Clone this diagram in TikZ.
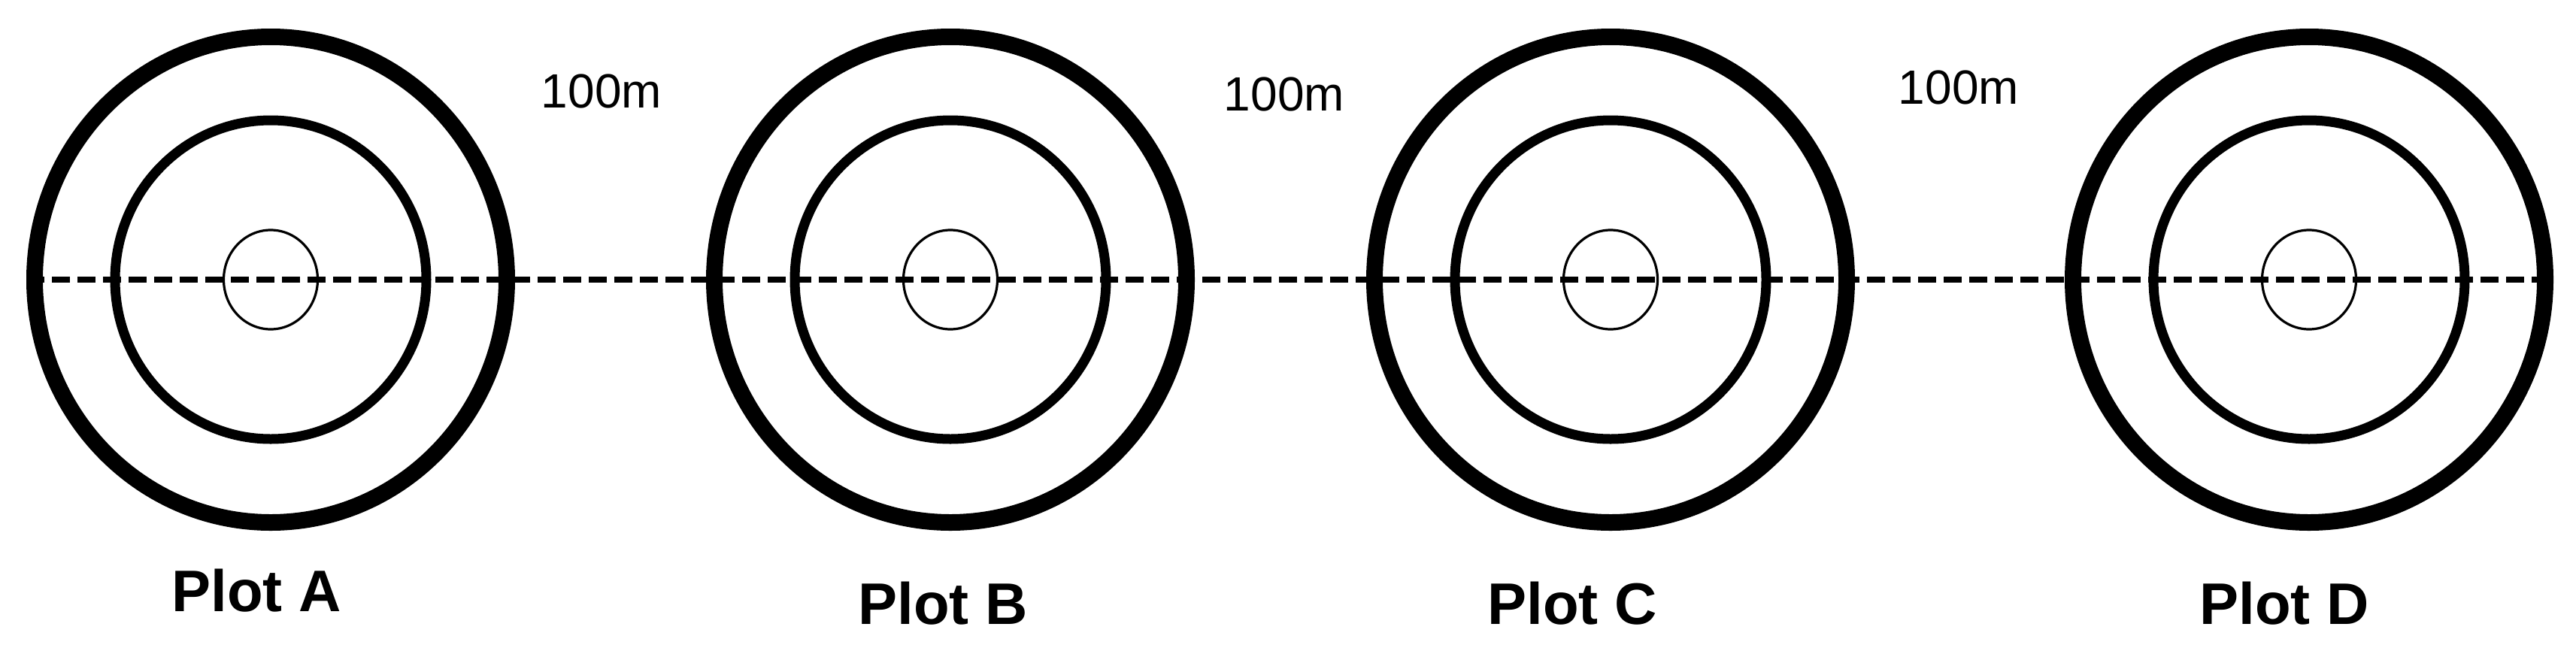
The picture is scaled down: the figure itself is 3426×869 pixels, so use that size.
\documentclass[tikz,border=0pt]{standalone}
\usepackage{fontspec}
\setmainfont{Liberation Sans}
\usetikzlibrary{shapes.geometric}
\begin{document}
\begin{tikzpicture}[x=0.5pt,y=-0.5pt,
  outerring/.style={ellipse,draw,line width=11pt,minimum width=314pt,minimum height=323pt,inner sep=0pt},
  midring/.style={ellipse,draw,line width=6.5pt,minimum width=207pt,minimum height=212pt,inner sep=0pt},
  innerring/.style={ellipse,draw,line width=1.6pt,minimum width=62.5pt,minimum height=66pt,inner sep=0pt},
  dashline/.style={line width=3.8pt,dash pattern=on 12pt off 5pt},
  plotlabel/.style={font=\bfseries\fontsize{39pt}{44pt}\selectfont,anchor=base,inner sep=0pt},
  distlabel/.style={font=\fontsize{32pt}{36pt}\selectfont,anchor=base,inner sep=0pt}]
\useasboundingbox[fill=white] (0,0) rectangle (3426,869);
% plots
\foreach \n/\x in {A/360,B/1264,C/2142,D/3071}{
  \node[outerring] (\n out) at (\x,372) {};
  \node[midring] (\n mid) at (\x,372) {};
  \node[innerring] (\n in) at (\x,372) {};
}
\draw[dashline] (Aout.west) -- (Dout.east);
% labels
\node[plotlabel] (la) at (341,813) {Plot A};
\node[plotlabel] (lb) at (1254,830) {Plot B};
\node[plotlabel] (lc) at (2091,830) {Plot C};
\node[plotlabel] (ld) at (3038,830) {Plot D};
\node[distlabel] (d1) at (800,143) {100m};
\node[distlabel] (d2) at (1708,147) {100m};
\node[distlabel] (d3) at (2605,138) {100m};
\end{tikzpicture}
\end{document}
